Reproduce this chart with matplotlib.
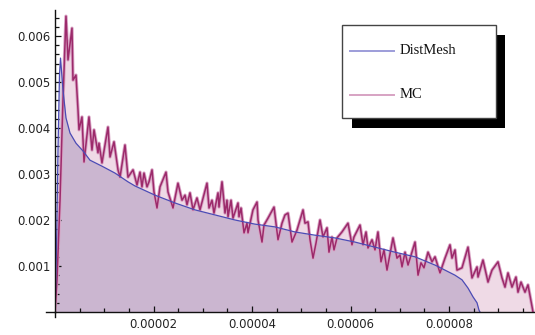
import numpy as np
import matplotlib
matplotlib.use("Agg")
import matplotlib.pyplot as plt
from matplotlib.patches import Rectangle
from matplotlib.lines import Line2D

# DistMesh density (x in 1e-6, y in 1e-3)
dm_x = [0, 0.30, 0.61, 0.91, 1.12, 1.62, 2.23, 3.05, 4.26, 5.69, 7.11, 9.54,
        12.18, 14.82, 16.24, 20.30, 24.37, 28.43, 32.49, 36.55, 40.61, 44.67,
        48.73, 52.79, 56.85, 60.91, 64.97, 69.04, 73.10, 77.16, 81.22, 82.64,
        83.86, 84.87, 85.69, 86.09, 86.29]
dm_y = [0, 1.35, 3.52, 5.15, 5.52, 4.83, 4.22, 3.89, 3.67, 3.50, 3.30, 3.17,
        3.02, 2.83, 2.74, 2.54, 2.37, 2.22, 2.11, 2.00, 1.91, 1.85,
        1.74, 1.67, 1.61, 1.52, 1.41, 1.30, 1.20, 1.02, 0.80, 0.70,
        0.52, 0.33, 0.20, 0.04, 0]

# Monte Carlo histogram (x in 1e-6, y in 1e-3)
mc_x = [0, 0.41, 1.02, 1.62, 2.23, 2.64, 3.45, 3.65, 4.26, 4.67, 4.87, 5.48,
        5.89, 6.90, 7.51, 7.92, 8.73, 8.93, 9.54, 10.76, 11.17, 11.98, 12.79,
        13.20, 14.21, 14.82, 15.84, 16.65, 17.26, 17.66, 18.07, 18.68, 19.09,
        19.70, 20.10, 20.71, 21.32, 22.54, 22.94, 23.96, 24.97, 25.79, 26.40,
        26.80, 27.41, 28.02, 28.83, 29.44, 30.86, 31.27, 31.88, 32.28, 33.10,
        33.30, 33.91, 34.52, 34.92, 35.13, 35.74, 36.14, 37.16, 37.36, 37.77,
        38.38, 38.98, 39.19, 40.20, 41.02, 41.22, 42.03, 42.44, 43.25, 44.47,
        45.28, 46.09, 46.70, 47.31, 48.12, 49.14, 50.36, 50.76, 51.37, 51.78,
        52.39, 53.00, 53.81, 54.42, 55.23, 55.63, 56.24, 56.65, 57.26, 58.27,
        59.49, 60.30, 60.71, 61.93, 62.54, 63.15, 63.55, 64.37, 64.97, 65.58,
        66.19, 66.80, 67.41, 68.63, 69.44, 70.05, 70.46, 71.07, 71.68, 73.10,
        73.71, 74.31, 74.92, 75.74, 76.55, 77.16, 78.17, 79.19, 80.20, 80.61,
        81.22, 81.62, 82.64, 83.86, 84.67, 85.69, 85.89, 86.90, 87.92, 88.73,
        89.95, 90.76, 91.37, 91.98, 92.79, 93.60, 94.01, 94.62, 95.43, 96.04,
        97.06]
mc_y = [0, 0.70, 2.43, 4.61, 6.43, 5.48, 6.17, 5.04, 5.15, 4.39, 3.96, 4.24,
        3.26, 4.24, 3.52, 3.96, 3.46, 3.67, 3.24, 4.02, 3.37, 3.70, 3.09,
        2.93, 3.63, 2.93, 3.09, 2.76, 3.04, 2.72, 3.02, 2.72, 2.83,
        3.09, 2.61, 2.26, 2.72, 3.04, 2.61, 2.26, 2.80, 2.43, 2.54,
        2.33, 2.59, 2.22, 2.48, 2.22, 2.80, 2.26, 2.43, 2.15, 2.59,
        2.28, 2.83, 2.15, 2.43, 2.07, 2.43, 2.04, 2.37, 2.07, 2.26,
        1.72, 1.93, 1.72, 2.22, 2.39, 2.00, 1.52, 1.89, 2.04, 2.28,
        1.57, 1.93, 2.11, 2.15, 1.52, 1.78, 2.22, 1.93, 1.96, 1.57,
        1.17, 1.50, 2.00, 1.63, 1.83, 1.30, 1.63, 1.35, 1.61, 1.74,
        1.93, 1.46, 1.63, 1.89, 1.46, 1.74, 1.39, 1.57, 1.35, 1.74,
        1.09, 1.35, 0.91, 1.61, 1.17, 1.24, 0.98, 1.30, 1.02, 1.52,
        0.80, 1.07, 0.96, 1.30, 1.09, 1.20, 0.85, 1.17, 1.46, 1.17,
        1.35, 0.91, 0.96, 1.41, 0.74, 0.98, 0.76, 1.13, 0.65, 0.91,
        1.09, 0.74, 0.54, 0.85, 0.54, 0.76, 0.43, 0.65, 0.43, 0.59,
        0]

xticks = [0.00002, 0.00004, 0.00006, 0.00008]
xtick_labels = ["0.00002", "0.00004", "0.00006", "0.00008"]
yticks = [0.001, 0.002, 0.003, 0.004, 0.005, 0.006]
ytick_labels = ["0.001", "0.002", "0.003", "0.004", "0.005", "0.006"]
series_names = ["DistMesh", "MC"]

dmx = np.array(dm_x) * 1e-6
dmy = np.array(dm_y) * 1e-3
mcx = np.array(mc_x) * 1e-6
mcy = np.array(mc_y) * 1e-3

fig = plt.figure(figsize=(5.35, 3.35), dpi=100)
ax = fig.add_axes([55 / 535, 1 - 312 / 335, 480 / 535, 302 / 335])

ax.fill_between(mcx, 0, mcy, color="#b04a85", alpha=0.2, linewidth=0)
ax.fill_between(dmx, 0, dmy, color="#78649f", alpha=0.3, linewidth=0)
ax.plot(mcx, mcy, color="#d9a3c4", lw=2.4, solid_joinstyle="round")
ax.plot(mcx, mcy, color="#9c2a6b", lw=1.1, solid_joinstyle="round")
ax.plot(dmx, dmy, color="#4b4bb5", lw=0.9)

ax.set_xlim(0, 480 / 4.925 * 1e-6)
ax.set_ylim(0, 302 / 46 * 1e-3)

for s in ["top", "right"]:
    ax.spines[s].set_visible(False)
for s in ["left", "bottom"]:
    ax.spines[s].set_linewidth(1.0)
    ax.spines[s].set_color("#111111")

ax.set_xticks(xticks, xtick_labels)
ax.set_yticks(yticks, ytick_labels)
ax.set_xticks(np.arange(0.000005, 0.0000975, 0.000005), minor=True)
ax.set_yticks(np.arange(0.0002, 0.0066, 0.0002), minor=True)
ax.tick_params(which="both", direction="in", color="#111111", width=0.9,
               labelsize=8.4, labelcolor="#222222")
ax.tick_params(which="major", length=4.3)
ax.tick_params(which="minor", length=2.8)
ax.tick_params(axis="y", pad=3.5)
ax.tick_params(axis="x", pad=4)

# small overhang where the axes cross
ax.plot([-9 / 480, 0], [0, 0], transform=ax.transAxes, color="#111111",
        lw=1.0, clip_on=False)
ax.plot([0, 0], [-5 / 302, 0], transform=ax.transAxes, color="#111111",
        lw=1.0, clip_on=False)

# legend box with a solid drop shadow
W, H = 535.0, 335.0
def fx(px):
    return px / W
def fy(py):
    return 1 - py / H

fig.add_artist(Rectangle((fx(352), fy(128)), fx(505) - fx(352), fy(35) - fy(128),
                         transform=fig.transFigure, facecolor="black",
                         edgecolor="none", zorder=10))
fig.add_artist(Rectangle((fx(342), fy(118)), fx(496) - fx(342), fy(25) - fy(118),
                         transform=fig.transFigure, facecolor="white",
                         edgecolor="#444444", linewidth=1.0, zorder=11))
legend_colors = ["#9d9dd9", "#d7a3c3"]
for name, col, py in zip(series_names, legend_colors, [51, 95]):
    fig.add_artist(Line2D([fx(350), fx(394)], [fy(py), fy(py)],
                          transform=fig.transFigure, color=col, lw=1.4,
                          zorder=12))
    fig.text(fx(400), fy(py), name, family="Liberation Serif", fontsize=10.5,
             va="center", ha="left", color="#111111", zorder=12)

fig.savefig("out.png", dpi=100)
